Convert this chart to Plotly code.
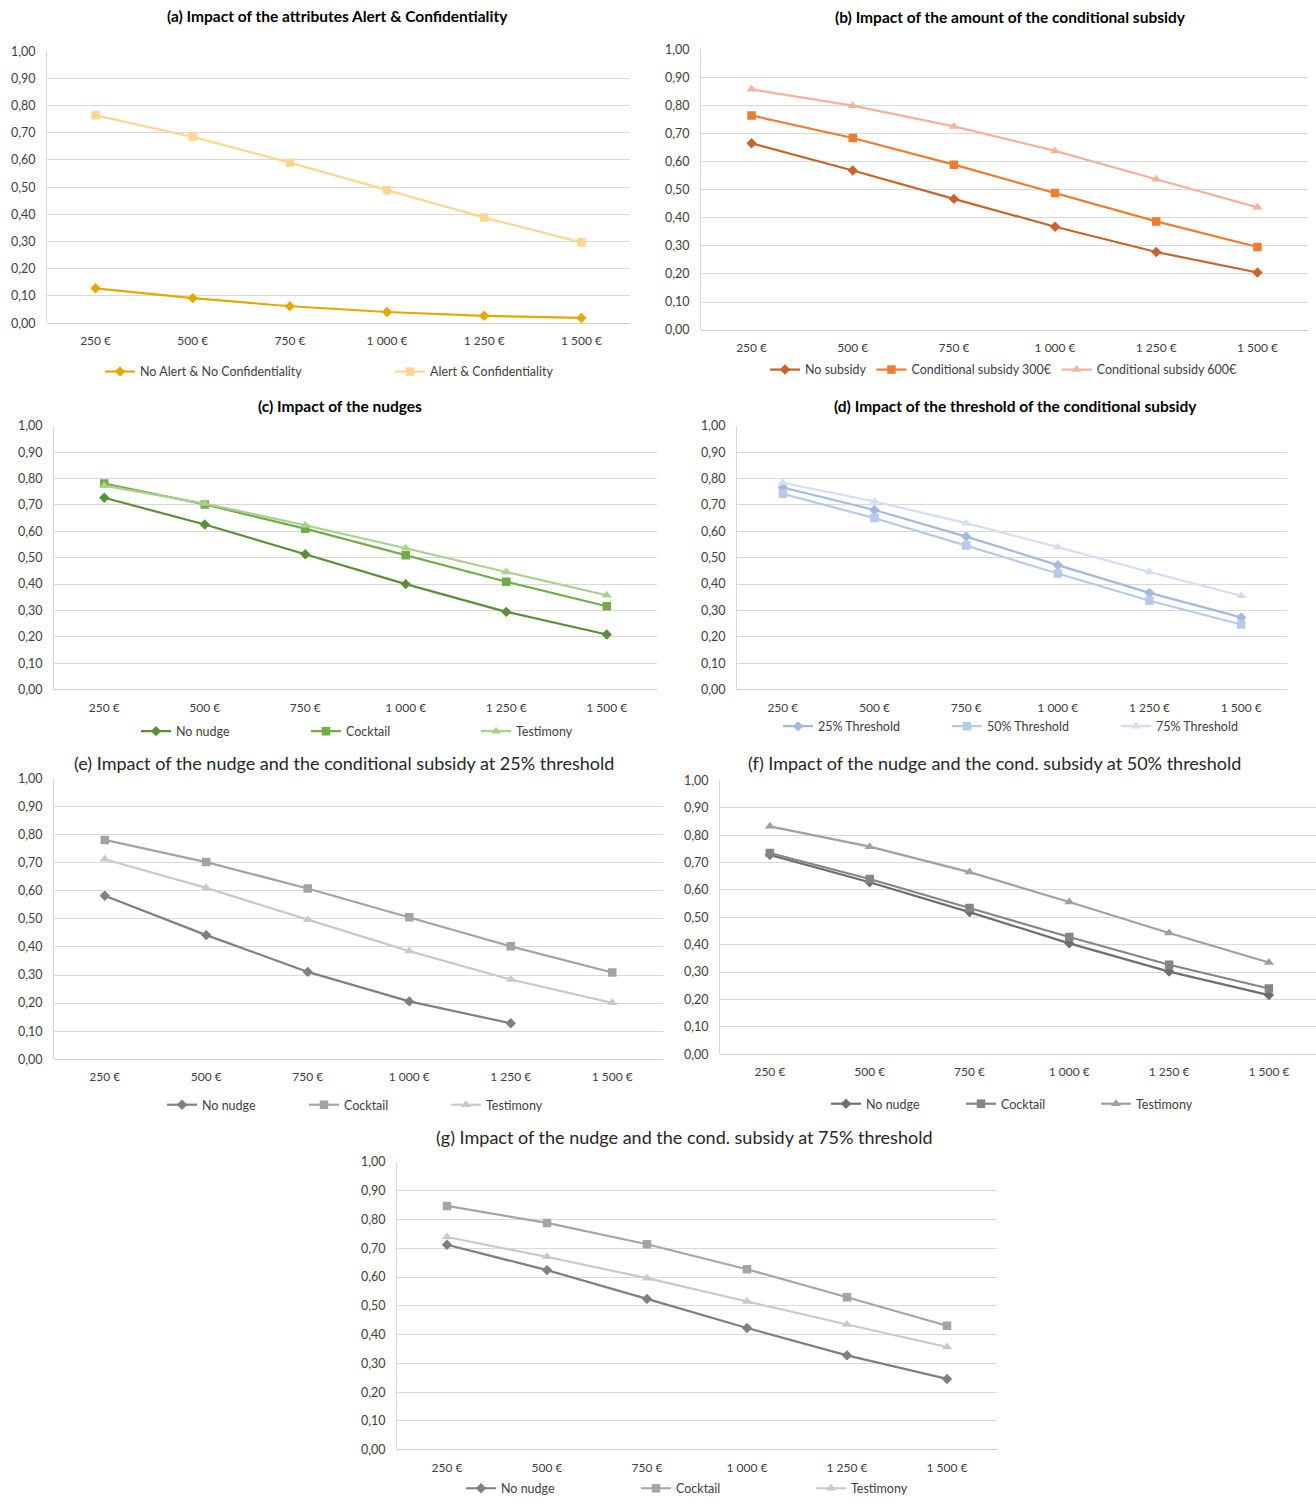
import plotly.graph_objects as go

W, H = 1316, 1504

categories = ["250 €", "500 €", "750 €", "1 000 €", "1 250 €", "1 500 €"]

# (a)
a_no_alert = [0.128, 0.092, 0.062, 0.041, 0.027, 0.019]
a_alert = [0.764, 0.685, 0.590, 0.489, 0.388, 0.297]
# (b)
b_no_subsidy = [0.665, 0.568, 0.467, 0.368, 0.278, 0.205]
b_cond300 = [0.764, 0.684, 0.589, 0.488, 0.387, 0.296]
b_cond600 = [0.857, 0.799, 0.725, 0.638, 0.537, 0.437]
# (c)
c_no_nudge = [0.727, 0.626, 0.513, 0.400, 0.295, 0.209]
c_cocktail = [0.781, 0.702, 0.610, 0.509, 0.409, 0.316]
c_testimony = [0.773, 0.705, 0.623, 0.536, 0.446, 0.358]
# (d)
d_th25 = [0.766, 0.681, 0.580, 0.472, 0.367, 0.274]
d_th50 = [0.742, 0.650, 0.546, 0.440, 0.337, 0.247]
d_th75 = [0.784, 0.713, 0.631, 0.540, 0.446, 0.356]
# (e)
e_no_nudge = [0.582, 0.442, 0.311, 0.206, 0.128, None]
e_cocktail = [0.781, 0.702, 0.608, 0.506, 0.402, 0.309]
e_testimony = [0.712, 0.610, 0.497, 0.385, 0.284, 0.201]
# (f)
f_no_nudge = [0.728, 0.628, 0.519, 0.405, 0.302, 0.216]
f_cocktail = [0.735, 0.640, 0.534, 0.428, 0.327, 0.240]
f_testimony = [0.832, 0.758, 0.665, 0.556, 0.443, 0.335]
# (g)
g_no_nudge = [0.712, 0.624, 0.524, 0.423, 0.328, 0.246]
g_cocktail = [0.847, 0.788, 0.714, 0.627, 0.530, 0.431]
g_testimony = [0.739, 0.670, 0.596, 0.515, 0.435, 0.357]

FONT = "Lato"
TXT = "#404040"

panels = [
    dict(key="a", title="(a) Impact of the attributes Alert & Confidentiality", bold=True,
         x0=47, x1=630, yt=51, yb=324, ty=16, tx=337, ly=373, lx=100, ew=245,
         series=[("No Alert & No Confidentiality", a_no_alert, "#E2AA00", "diamond", 8),
                 ("Alert & Confidentiality", a_alert, "#FFD591", "square", 8.5)]),
    dict(key="b", title="(b) Impact of the amount of the conditional subsidy", bold=True,
         x0=701, x1=1308, yt=49, yb=331, ty=17, tx=1011, ly=371, lx=765, ew=None,
         series=[("No subsidy", b_no_subsidy, "#C8642A", "diamond", 8),
                 ("Conditional subsidy 300€", b_cond300, "#ED7D31", "square", 8.5),
                 ("Conditional subsidy 600€", b_cond600, "#F4B29C", "triangle-up", 9)]),
    dict(key="c", title="(c) Impact of the nudges", bold=True,
         x0=54, x1=657, yt=427, yb=692, ty=407, tx=340, ly=734, lx=136, ew=125,
         series=[("No nudge", c_no_nudge, "#5A8F38", "diamond", 8),
                 ("Cocktail", c_cocktail, "#70AD47", "square", 8.5),
                 ("Testimony", c_testimony, "#A9D18E", "triangle-up", 9)]),
    dict(key="d", title="(d) Impact of the threshold of the conditional subsidy", bold=True,
         x0=737, x1=1287, yt=427, yb=692, ty=407, tx=1015, ly=729, lx=778, ew=124,
         series=[("25% Threshold", d_th25, "#A0BAE0", "diamond", 8),
                 ("50% Threshold", d_th50, "#B8CAE9", "square", 8.5),
                 ("75% Threshold", d_th75, "#D4DEF2", "triangle-up", 9)]),
    dict(key="e", title="(e) Impact of the nudge and the conditional subsidy at 25% threshold", bold=False,
         x0=54, x1=663, yt=781, yb=1063, ty=766, tx=344, ly=1109, lx=162, ew=97,
         series=[("No nudge", e_no_nudge, "#808080", "diamond", 8),
                 ("Cocktail", e_cocktail, "#A3A3A3", "square", 8.5),
                 ("Testimony", e_testimony, "#C9C9C9", "triangle-up", 9)]),
    dict(key="f", title="(f) Impact of the nudge and the cond. subsidy at 50% threshold", bold=False,
         x0=720, x1=1316, yt=783, yb=1058, ty=766, tx=994, ly=1108, lx=826, ew=90,
         series=[("No nudge", f_no_nudge, "#6F6F6F", "diamond", 8),
                 ("Cocktail", f_cocktail, "#858585", "square", 8.5),
                 ("Testimony", f_testimony, "#A0A0A0", "triangle-up", 9)]),
    dict(key="g", title="(g) Impact of the nudge and the cond. subsidy at 75% threshold", bold=False,
         x0=397, x1=997, yt=1166, yb=1455, ty=1141, tx=684, ly=1494, lx=461, ew=130,
         series=[("No nudge", g_no_nudge, "#7F7F7F", "diamond", 8),
                 ("Cocktail", g_cocktail, "#A5A5A5", "square", 8.5),
                 ("Testimony", g_testimony, "#C9C9C9", "triangle-up", 9)]),
]


def ypos(px):
    # vertical page position (px from top) -> paper fraction, compensating the
    # small vertical scaling/offset observed in the rendered screenshot
    v = (px - 7.5) / 0.990 + 5.0 * (px - 51) / 1404
    return 1 - v / H


fig = go.Figure()
layout = dict(
    width=W, height=H, margin=dict(l=0, r=0, t=0, b=0),
    paper_bgcolor="white", plot_bgcolor="white",
    separators=", ", font=dict(family=FONT, size=12, color=TXT),
    annotations=[],
)

for i, p in enumerate(panels):
    n = i + 1
    xa = "xaxis" if n == 1 else f"xaxis{n}"
    ya = "yaxis" if n == 1 else f"yaxis{n}"
    xr = "x" if n == 1 else f"x{n}"
    yr = "y" if n == 1 else f"y{n}"
    lg = "legend" if n == 1 else f"legend{n}"
    if p["key"] == "f":
        spacing = 99.8
        xrange = [-0.5, (p["x1"] - p["x0"]) / spacing - 0.5]
    else:
        xrange = [-0.5, 5.5]
    layout[xa] = dict(domain=[p["x0"] / W, p["x1"] / W], anchor=yr, type="category",
                      range=xrange, showgrid=False, showline=False, ticks="",
                      ticklabelstandoff=9,
                      tickfont=dict(family=FONT, size=12, color=TXT),
                      zeroline=False, fixedrange=True)
    layout[ya] = dict(domain=[ypos(p["yb"]), ypos(p["yt"])], anchor=xr,
                      range=[0, 1.0], dtick=0.1, tick0=0, tickformat=".2f",
                      showgrid=True, gridcolor="#D9D9D9", gridwidth=1,
                      showline=True, linecolor="#D9D9D9", linewidth=1,
                      zeroline=True, zerolinecolor="#D0D0D0", zerolinewidth=1,
                      ticks="", ticklen=0, ticklabelstandoff=8,
                      tickfont=dict(family=FONT, size=12.5, color=TXT), fixedrange=True)
    leg = dict(x=p["lx"] / W, y=ypos(p["ly"]), xanchor="left", yanchor="middle",
               orientation="h", font=dict(family=FONT, size=12.5, color=TXT),
               bgcolor="rgba(0,0,0,0)", borderwidth=0, itemwidth=30,
               tracegroupgap=0)
    if p["ew"]:
        leg["entrywidth"] = p["ew"]
        leg["entrywidthmode"] = "pixels"
    layout[lg] = leg
    for name, vals, col, sym, size in p["series"]:
        fig.add_trace(go.Scatter(
            x=categories, y=vals, name=name, mode="lines+markers",
            line=dict(color=col, width=2.2),
            marker=dict(symbol=sym, size=size, color=col),
            xaxis=xr, yaxis=yr, legend=lg, connectgaps=False,
            hoverinfo="skip"))
    title_text = f"<b>{p['title']}</b>" if p["bold"] else p["title"]
    layout["annotations"].append(dict(
        text=title_text, x=p["tx"] / W, y=ypos(p["ty"]), xref="paper", yref="paper",
        xanchor="center", yanchor="middle", showarrow=False,
        font=dict(family=FONT, size=15.5 if p["bold"] else 18,
                  color="#000000" if p["bold"] else "#262626")))

fig.update_layout(**layout)
fig.write_html(
    "out.html",
    config={"displayModeBar": False},
    post_script=(
        "document.body.style.margin='0';"
        "document.body.style.overflow='hidden';"
        "var d=document.getElementById('{plot_id}');"
        "d.style.position='fixed';d.style.top='0px';d.style.left='0px';"
    ),
)
